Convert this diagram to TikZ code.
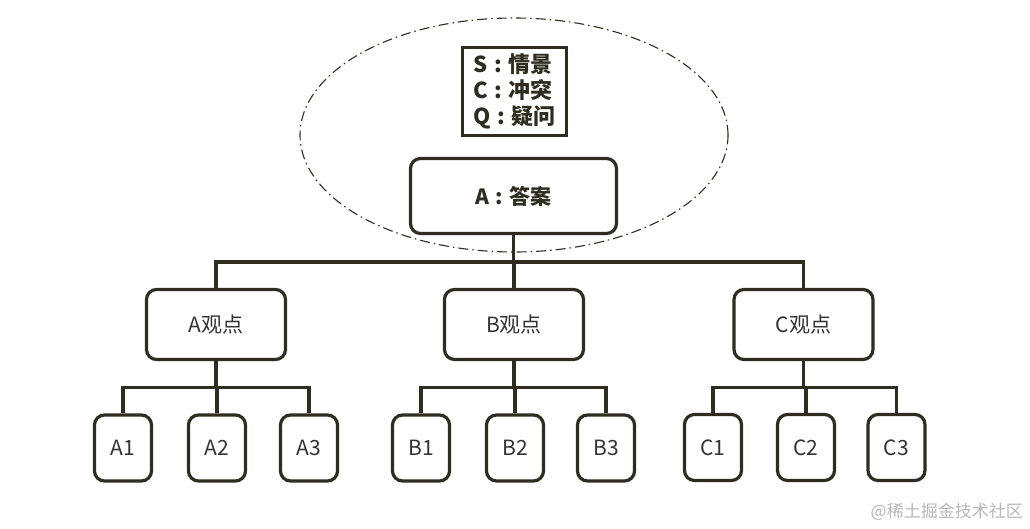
\documentclass[tikz,border=0pt]{standalone}
\usepackage{fontspec}
\setmainfont{Noto Sans CJK SC}
\usetikzlibrary{shapes.geometric}
\definecolor{ink}{HTML}{2E2D1F}
\definecolor{txt}{HTML}{333333}
\definecolor{wm}{HTML}{B8B8B8}
\newcommand{\clsep}{\hspace{0.3em}:\hspace{0.3em}}
\tikzset{
  box/.style={draw=ink, line width=3.2pt, rounded corners=10pt, inner sep=0pt, text=txt, font=\fontsize{21pt}{25pt}\selectfont},
  mid/.style={box, minimum width=139pt, minimum height=70pt},
  leaf/.style={box, minimum width=57pt, minimum height=66pt},
  conn/.style={draw=ink, line width=3.2pt},
}
\begin{document}
\begin{tikzpicture}[x=1pt,y=-1pt]
\useasboundingbox[fill=white] (0,0) rectangle (1030,529);
% group ellipse
\node[ellipse, draw=ink, line width=1.1pt, dash pattern=on 10pt off 4pt on 1.5pt off 4pt,
      minimum width=428pt, minimum height=234pt, inner sep=0pt] (grp) at (514,135) {};
% SCQ box
\node[draw=ink, line width=3pt, minimum width=104pt, minimum height=88pt, inner sep=0pt,
      align=left, text=ink, font=\bfseries\fontsize{22pt}{26pt}\selectfont] (scq) at (514.5,91.5)
  {S\clsep 情景\\C\clsep 冲突\\Q\clsep 疑问};
% answer
\node[box, minimum width=206pt, minimum height=75pt, text=ink, font=\bfseries\fontsize{21pt}{25pt}\selectfont] (ans) at (513.5,196) {A\clsep 答案};
% level 2
\node[mid] (pa) at (216,324.5) {A观点};
\node[mid] (pb) at (514,324.5) {B观点};
\node[mid] (pc) at (803.5,324.5) {C观点};
% leaves
\node[leaf] (a1) at (123,448) {A1};
\node[leaf] (a2) at (217,448) {A2};
\node[leaf] (a3) at (309,448) {A3};
\node[leaf] (b1) at (421,448) {B1};
\node[leaf] (b2) at (515,448) {B2};
\node[leaf] (b3) at (606,448) {B3};
\node[leaf] (c1) at (713,447.5) {C1};
\node[leaf] (c2) at (806,447.5) {C2};
\node[leaf] (c3) at (896.5,447.5) {C3};
% connectors
\foreach \c in {pa,pb,pc} \draw[conn] (ans.south) -- ++(0,27) -| (\c.north);
\foreach \p/\c in {pa/a1,pa/a2,pa/a3,pb/b1,pb/b2,pb/b3,pc/c1,pc/c2,pc/c3}
  \draw[conn] (\p.south) -- ++(0,26) -| (\c.north);
% watermark
\node[text=wm, font=\fontsize{17pt}{20pt}\selectfont, anchor=east, inner sep=0pt] (mark) at (1023,512) {@稀土掘金技术社区};
\end{tikzpicture}
\end{document}
